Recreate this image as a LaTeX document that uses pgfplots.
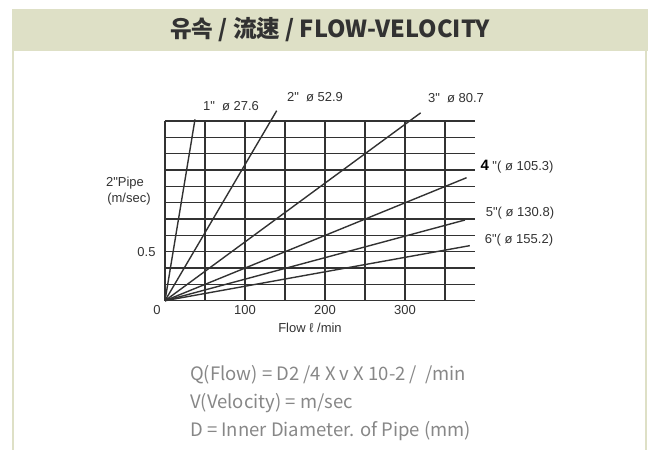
\documentclass[border=0pt]{standalone}
\usepackage{pgfplots}
\pgfplotsset{compat=1.18}
\usepackage{fontspec}
\setmainfont{Liberation Sans}
\newfontfamily\kr{Noto Sans CJK KR}

\definecolor{band}{RGB}{222,224,198}
\definecolor{ink}{RGB}{50,50,50}
\definecolor{note}{RGB}{135,135,135}

% flow-velocity lines, end points (x: l/min, y: grid steps)
\pgfplotstableread{
x y
0 0
37.5 11.1
}\pipeA
\pgfplotstableread{
x y
0 0
139.6 11.63
}\pipeB
\pgfplotstableread{
x y
0 0
319.6 11.5
}\pipeC
\pgfplotstableread{
x y
0 0
377 7.53
}\pipeD
\pgfplotstableread{
x y
0 0
375 4.94
}\pipeE
\pgfplotstableread{
x y
0 0
381 3.37
}\pipeF

\newcommand{\dq}{\textquotedbl}

\begin{document}
\begin{tikzpicture}
\path[use as bounding box] (0,0) rectangle (650bp,450bp);
% frame and title band
\fill[band] (12bp,399bp) rectangle (648bp,441bp);
\fill[band] (12bp,0) rectangle (14bp,399bp);
\fill[band] (645bp,0) rectangle (647bp,399bp);
\node[text=ink, font=\kr\bfseries\fontsize{23.5bp}{26bp}\selectfont] at (330bp,420bp) {유속 / 流速 / FLOW-VELOCITY};

\begin{axis}[
    at={(165bp,149.3bp)}, anchor=south west,
    scale only axis, width=310bp, height=179.7bp,
    xmin=0, xmax=387.5, ymin=0, ymax=11,
    axis line style={draw=none},
    xtick={0,50,...,350}, ytick={0,...,11},
    xticklabels={,,100,,200,,300,},
    yticklabels={,,,0.5,,,,,,,,},
    major tick length=0pt,
    grid=major,
    major grid style={ink, line width=1.4bp},
    tick label style={text=ink, font=\fontsize{13bp}{15bp}\selectfont},
    xticklabel style={yshift=-1bp},
    yticklabel style={xshift=-6bp},
    clip=false,
]
\addplot[ink, line width=1.4bp] table {\pipeA};
\addplot[ink, line width=1.4bp] table {\pipeB};
\addplot[ink, line width=1.4bp] table {\pipeC};
\addplot[ink, line width=1.4bp] table {\pipeD};
\addplot[ink, line width=1.4bp] table {\pipeE};
\addplot[ink, line width=1.4bp] table {\pipeF};
\end{axis}

\begin{scope}[every node/.style={text=ink, font=\fontsize{13bp}{15bp}\selectfont, inner sep=0pt}]
\node at (231bp,344bp) {1\dq\ \ ø 27.6};
\node at (315bp,353bp) {2\dq\ \ ø 52.9};
\node at (456bp,352bp) {3\dq\ \ ø 80.7};
\node at (517bp,283bp) {{\color{black}\bfseries\fontsize{15bp}{17bp}\selectfont 4} \dq( ø 105.3)};
\node at (520bp,237bp) {5\dq( ø 130.8)};
\node at (519bp,210bp) {6\dq( ø 155.2)};
\node at (125bp,267bp) {2\dq Pipe};
\node at (129bp,251bp) {(m/sec)};
\node at (157bp,140bp) {0};
\node at (310bp,122bp) {Flow ℓ /min};
\end{scope}

\begin{scope}[every node/.style={text=note, anchor=west, inner sep=0pt, font=\kr\fontsize{18.5bp}{20bp}\selectfont}]
\node at (190bp,75bp) {Q(Flow) = D2 /4 X v X 10-2 /\ \ /min};
\node at (190bp,47bp) {V(Velocity) = m/sec};
\node at (190bp,19bp) {D = Inner Diameter. of Pipe (mm)};
\end{scope}
\end{tikzpicture}
\end{document}
